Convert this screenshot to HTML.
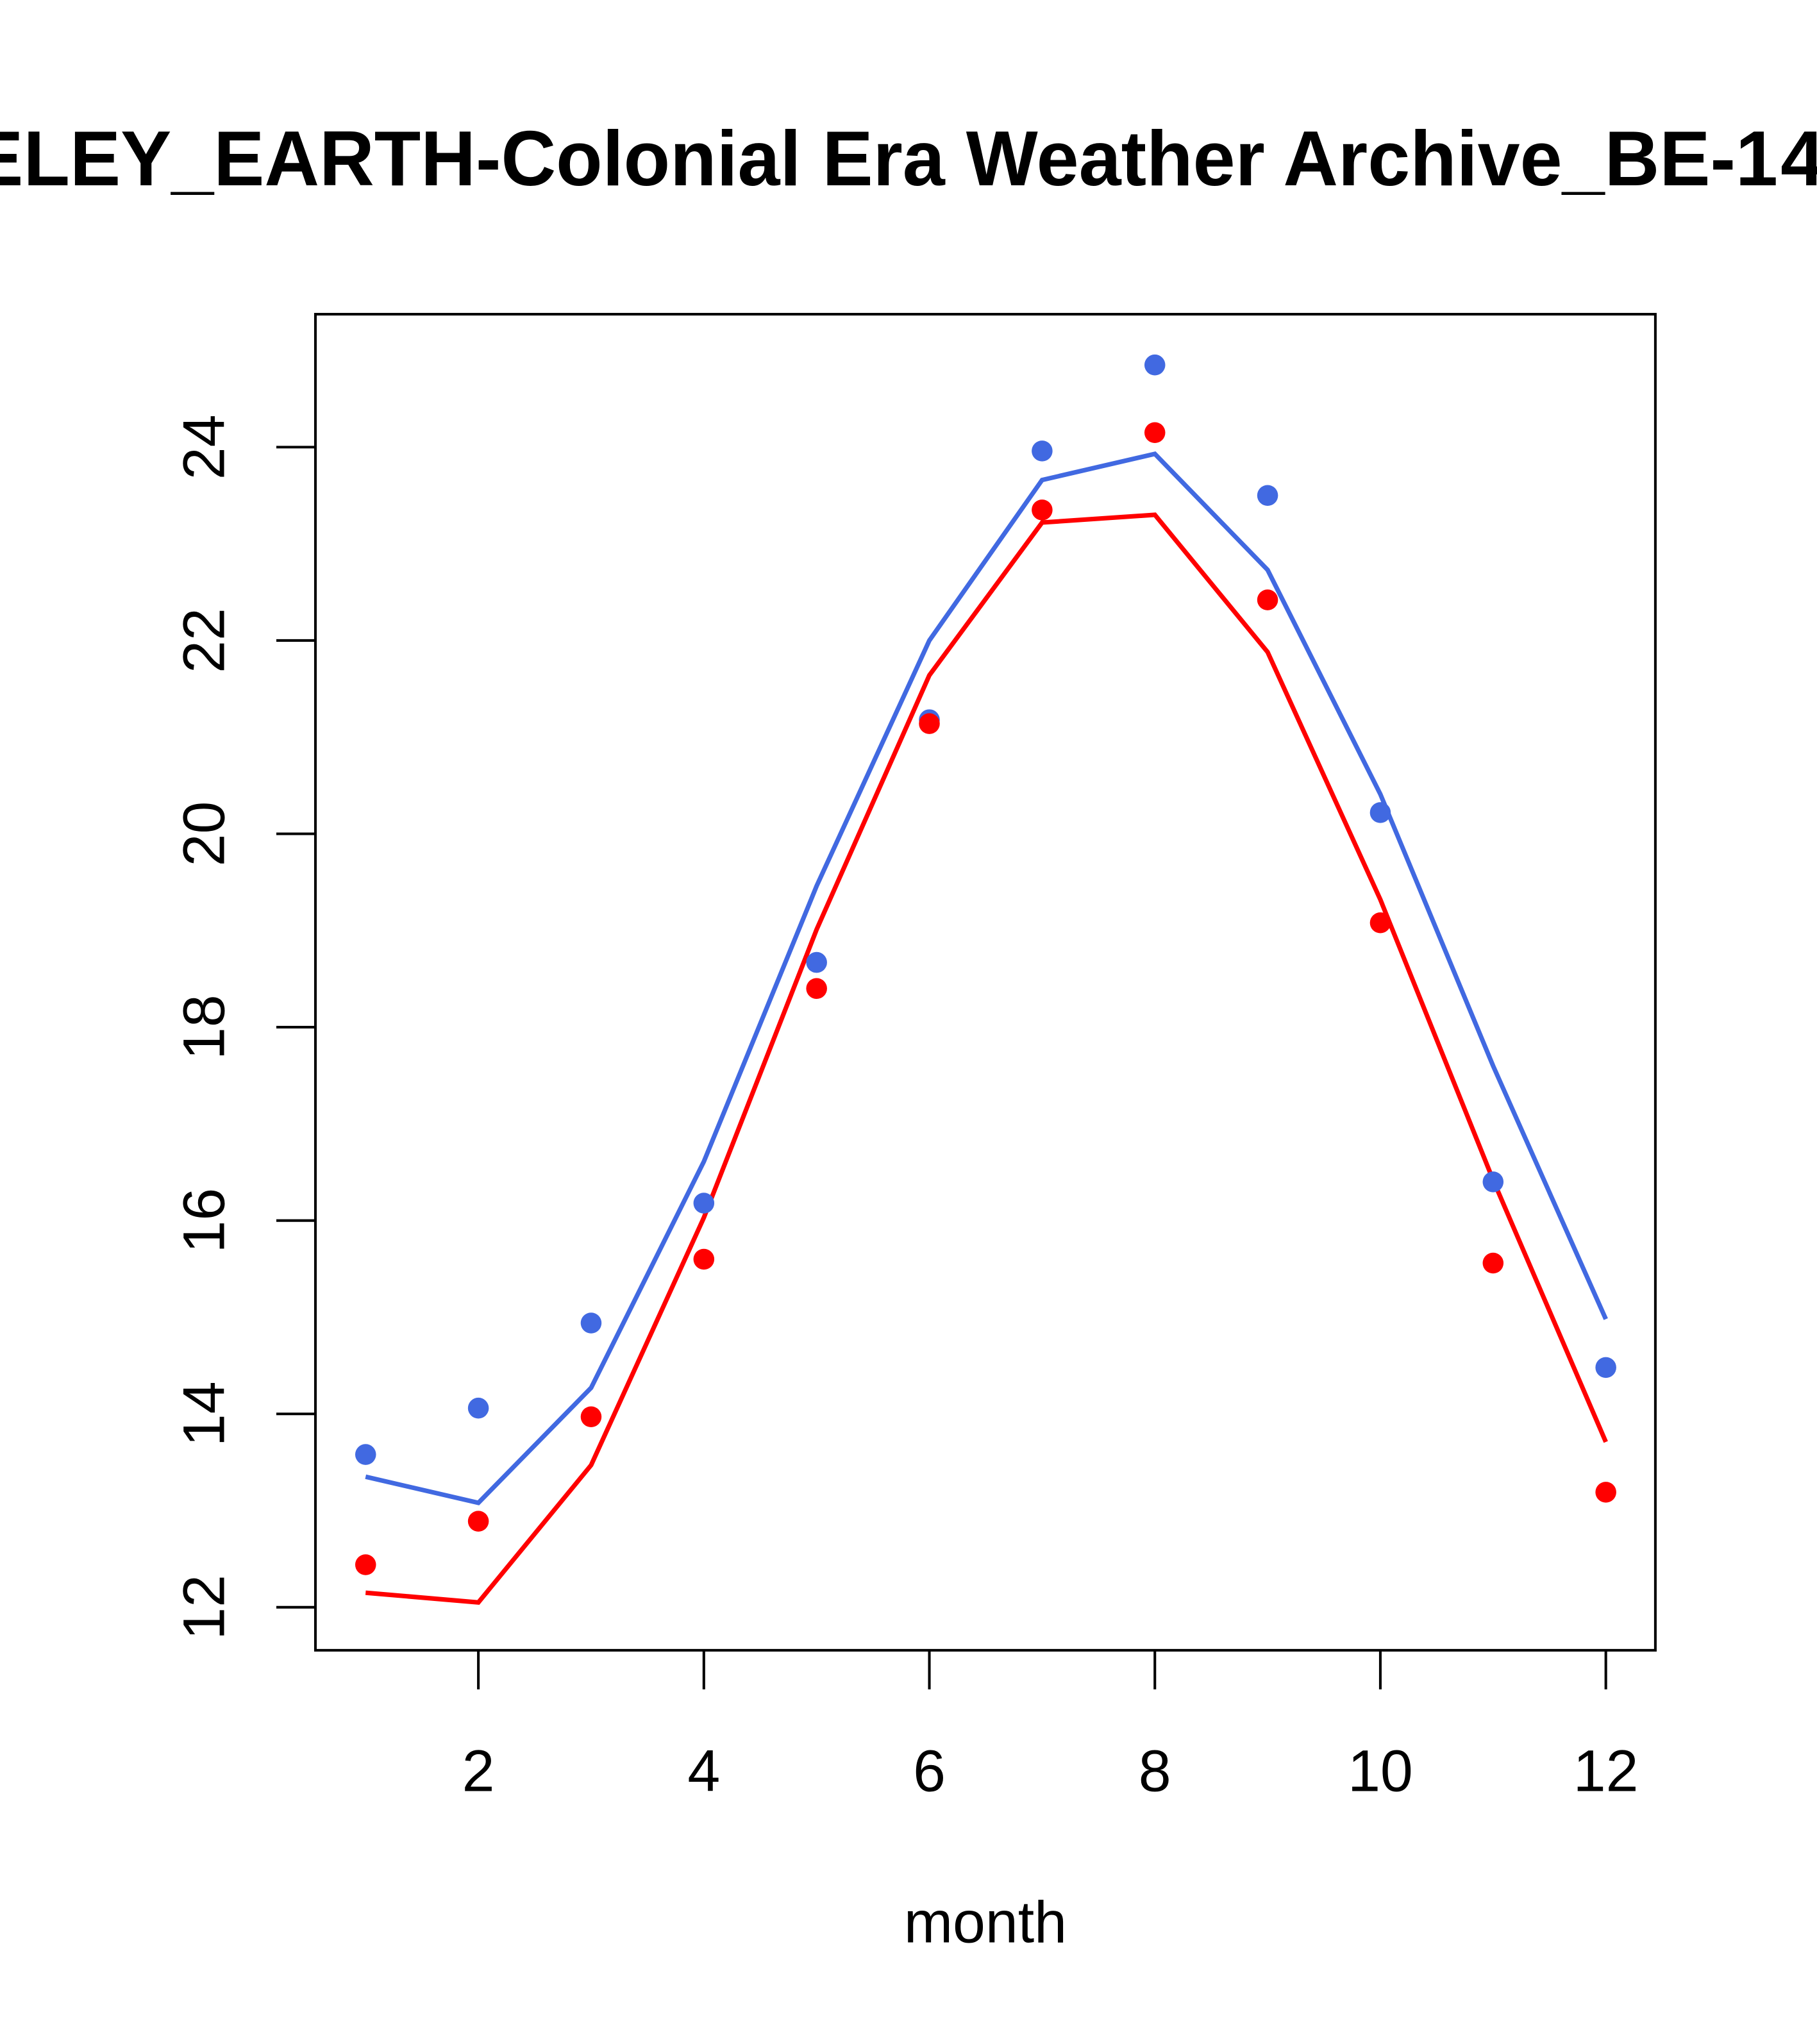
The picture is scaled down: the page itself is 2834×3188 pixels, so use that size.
<!DOCTYPE html>
<html><head><meta charset="utf-8"><style>html,body{margin:0;padding:0;background:#fff}svg{display:block}</style></head>
<body>
<svg id="chart" width="2834" height="3188" viewBox="0 0 1394 1568" xmlns="http://www.w3.org/2000/svg" font-family="Liberation Sans, sans-serif">
<rect width="1394" height="1568" fill="#fff"/>
<g font-size="60" font-weight="bold">
<text x="-21" y="142" text-anchor="end">BERK</text>
<text x="-21" y="142" textLength="1385" lengthAdjust="spacingAndGlyphs">ELEY_EARTH-Colonial Era Weather Archive_BE-1</text>
<text x="1366" y="142">4195</text>
</g>
<rect x="242" y="241" width="1028" height="1025" fill="none" stroke="#000" stroke-width="2"/>
<g id="xaxis"></g>
<g id="yaxis"></g>
<text x="756" y="1490" text-anchor="middle" font-size="45">month</text>
<g id="series"></g>
</svg>
<script>
const months=[1,2,3,4,5,6,7,8,9,10,11,12];
const xTicks=[2,4,6,8,10,12];
const yTicks=[12,14,16,18,20,22,24];
const bluePoints=[13.58,14.06,14.94,16.18,18.67,21.18,23.96,24.85,23.5,20.22,16.4,14.48];
const redPoints=[12.44,12.89,13.97,15.6,18.4,21.14,23.35,24.15,22.42,19.08,15.56,13.19];
const blueLine=[13.35,13.08,14.27,16.61,19.46,22.0,23.66,23.93,22.73,20.41,17.6,14.98];
const redLine=[12.15,12.05,13.47,16.03,19.01,21.64,23.22,23.3,21.88,19.32,16.42,13.71];
const NS='http://www.w3.org/2000/svg';
const x=m=>280.5+(m-1)*86.5;
const y=v=>1233-(v-12)*74.17;
function mk(tag,attrs,parent){const e=document.createElementNS(NS,tag);for(const k in attrs)e.setAttribute(k,attrs[k]);parent.appendChild(e);return e;}
const xa=document.getElementById('xaxis'),ya=document.getElementById('yaxis'),sg=document.getElementById('series');
xTicks.forEach(t=>{
 const l=mk('line',{x1:x(t),x2:x(t),y1:1266,y2:1296,stroke:'#000','stroke-width':2},xa);
 
 
 const tx=mk('text',{x:x(t),y:1374,'text-anchor':'middle','font-size':45},xa);
 tx.textContent=t;
 
 
});
yTicks.forEach(t=>{
 const l=mk('line',{x1:212,x2:242,y1:y(t),y2:y(t),stroke:'#000','stroke-width':2},ya);
 
 
 const tx=mk('text',{x:0,y:0,'text-anchor':'middle','font-size':45,transform:`translate(172,${y(t)}) rotate(-90)`},ya);
 tx.textContent=t;
 
 
});
function line(vals,col,name){
 const p=mk('polyline',{points:vals.map((v,i)=>x(months[i])+','+y(v)).join(' '),fill:'none',stroke:col,'stroke-width':3.5},sg);
 
 
}
function pts(vals,col,name){
 vals.forEach((v,i)=>{
  const c=mk('circle',{cx:x(months[i]),cy:y(v),r:8,fill:col},sg);
  
  
 });
}
line(blueLine,'#4169E1','blue-line');
line(redLine,'#FF0000','red-line');
pts(bluePoints,'#4169E1','blue-point');
pts(redPoints,'#FF0000','red-point');
</script>
</body></html>
